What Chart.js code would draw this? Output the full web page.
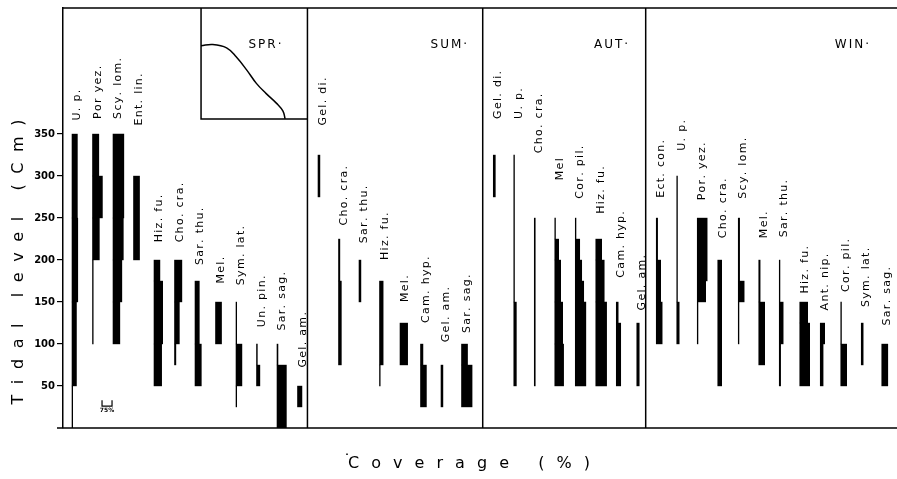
<!DOCTYPE html>
<html><head><meta charset="utf-8">
<script src="https://cdn.jsdelivr.net/npm/chart.js@4/dist/chart.umd.min.js"></script>
<style>html,body{margin:0;padding:0;background:#fff;overflow:hidden}</style>
</head><body>
<canvas id="c" width="897" height="479"></canvas>
<script>
// ---------------- DATA ----------------
const panelNames = ['SPR·', 'SUM·', 'AUT·', 'WIN·'];
const tidalTicks = [50, 100, 150, 200, 250, 300, 350];

// each species: list of [low cm, high cm, coverage %]
const sprSpecies = ['U. p.', 'Por yez.', 'Scy. lom.', 'Ent. lin.', 'Hiz. fu.', 'Cho. cra.', 'Sar. thu.', 'Mel.', 'Sym. lat.', 'Un. pin.', 'Sar. sag.', 'Gel. am.'];
const sprCover = [
  [[0, 50, 10], [50, 150, 38], [150, 250, 48], [250, 350, 45]],
  [[100, 200, 10], [200, 250, 56], [250, 300, 79], [300, 350, 52]],
  [[100, 150, 56], [150, 200, 71], [200, 250, 82], [250, 350, 86]],
  [[200, 300, 50]],
  [[50, 100, 62], [100, 175, 70], [175, 200, 49]],
  [[75, 100, 15], [100, 150, 41], [150, 200, 60]],
  [[50, 100, 52], [100, 175, 37]],
  [[100, 150, 50]],
  [[25, 50, 10], [50, 100, 49], [100, 150, 10]],
  [[50, 75, 30], [75, 100, 11]],
  [[0, 75, 75], [75, 100, 12]],
  [[25, 50, 38]]
];
const sprLabelAt = [366, 368, 368, 360, 221, 221, 194, 172, 170, 120, 116, 72];

const sumSpecies = ['Gel. di.', 'Cho. cra.', 'Sar. thu.', 'Hiz. fu.', 'Mel.', 'Cam. hyp.', 'Gel. am.', 'Sar. sag.'];
const sumCover = [
  [[275, 325, 19]],
  [[75, 175, 26], [175, 225, 15]],
  [[150, 200, 19]],
  [[50, 75, 10], [75, 175, 32]],
  [[75, 125, 62]],
  [[25, 75, 49], [75, 100, 23]],
  [[25, 75, 19]],
  [[25, 75, 84], [75, 100, 50]]
];
const sumLabelAt = [360, 241, 220, 200, 150, 125, 102, 113];

const autSpecies = ['Gel. di.', 'U. p.', 'Cho. cra.', 'Mel', 'Cor. pil.', 'Hiz. fu.', 'Cam. hyp.', 'Gel. am.'];
const autCover = [
  [[275, 325, 20]],
  [[50, 150, 24], [150, 325, 10]],
  [[50, 250, 12]],
  [[50, 100, 71], [100, 150, 64], [150, 200, 49], [200, 225, 34], [225, 250, 10]],
  [[50, 150, 84], [150, 175, 68], [175, 200, 53], [200, 225, 38], [225, 250, 10]],
  [[50, 150, 86], [150, 200, 68], [200, 225, 49]],
  [[50, 125, 38], [125, 150, 19]],
  [[50, 125, 23]]
];
const autLabelAt = [368, 368, 327, 295, 273, 255, 179, 140];

const winSpecies = ['Ect. con.', 'U. p.', 'Por. yez.', 'Cho. cra.', 'Scy. lom.', 'Mel.', 'Sar. thu.', 'Hiz. fu.', 'Ant. nip.', 'Cor. pil.', 'Sym. lat.', 'Sar. sag.'];
const winCover = [
  [[100, 150, 49], [150, 200, 38], [200, 250, 15]],
  [[100, 150, 23], [150, 300, 10]],
  [[100, 150, 10], [150, 175, 68], [175, 250, 79]],
  [[50, 200, 34]],
  [[100, 150, 10], [150, 175, 49], [175, 250, 15]],
  [[75, 150, 49], [150, 200, 15]],
  [[50, 100, 15], [100, 150, 34], [150, 200, 10]],
  [[50, 125, 79], [125, 150, 64]],
  [[50, 100, 26], [100, 125, 38]],
  [[50, 100, 49], [100, 150, 10]],
  [[75, 125, 19]],
  [[50, 100, 50]]
];
const winLabelAt = [274, 330, 271, 226, 273, 226, 227, 160, 140, 162, 144, 122];

// inset curve (SPR): time % vs relative level %
const insetTime = [0, 11, 24, 33, 43, 52, 61, 71, 77, 79];
const insetLevel = [66, 67, 64, 56, 44, 32, 23, 14, 7, 0];
const scaleBarCover = 75;

// ---------------- LAYOUT CONSTANTS ----------------
const PANEL_SHIFT = [0, 0, 0.55, 0.5];
const PX_PER_COL = 20.5;
const PCT_PER_PX = 7.5;
const INFLATE = 0.2;
const X_MIN = -0.424;
const X_MAX = X_MIN + 834 / PX_PER_COL;
const TITLE_COL = [9.43, 18.40, 26.31, 38.06];
const INSET = {x0: 6.31, x1: 11.5, y0: 368, y1: 500};
const FONT = 'DejaVu Sans';

const panels = [
  {species: sprSpecies, cover: sprCover, labelAt: sprLabelAt},
  {species: sumSpecies, cover: sumCover, labelAt: sumLabelAt},
  {species: autSpecies, cover: autCover, labelAt: autLabelAt},
  {species: winSpecies, cover: winCover, labelAt: winLabelAt}
];

const datasets = [];
const labelItems = [];
const dividers = [];
let col = 0;
panels.forEach((p, pi) => {
  if (pi > 0) dividers.push(col + PANEL_SHIFT[pi] - 0.5);
  p.species.forEach((name, si) => {
    const x0 = col + PANEL_SHIFT[pi];
    p.cover[si].forEach(([lo, hi, cov]) => {
      const wpx = cov / PCT_PER_PX;
      const thick = Math.max(0.6, wpx - 2 * INFLATE);
      datasets.push({
        type: 'bar',
        data: [{x: x0 + wpx / PX_PER_COL / 2, y: [lo, hi]}],
        barThickness: thick, maxBarThickness: thick, grouped: false,
        inflateAmount: INFLATE,
        backgroundColor: '#000', borderWidth: 0
      });
    });
    labelItems.push({text: name, x: x0, y: p.labelAt[si]});
    col++;
  });
});

datasets.push({
  type: 'line',
  data: insetTime.map((t, i) => ({
    x: INSET.x0 + t / 100 * (INSET.x1 - INSET.x0),
    y: INSET.y0 + insetLevel[i] / 100 * (INSET.y1 - INSET.y0)
  })),
  borderColor: '#000', borderWidth: 1.5, tension: 0.4, fill: false, pointRadius: 0
});

function spaced(ctx, str, x, y, sp) {
  let cx = x;
  for (const ch of str) {
    ctx.fillText(ch, cx, y);
    cx += ctx.measureText(ch).width + sp;
  }
}
function spacedWidth(ctx, str, sp) {
  let w = 0;
  for (const ch of str) w += ctx.measureText(ch).width + sp;
  return w - sp;
}

const decor = {
  id: 'decor',
  afterDatasetsDraw(chart) {
    const {ctx, chartArea: a} = chart;
    const xs = chart.scales.x, ys = chart.scales.y;
    const X = v => xs.getPixelForValue(v), Y = v => ys.getPixelForValue(v);
    ctx.save();
    ctx.strokeStyle = '#000';
    ctx.fillStyle = '#000';
    ctx.lineWidth = 1.5;
    ctx.beginPath();
    ctx.moveTo(a.left, a.top); ctx.lineTo(a.right, a.top);
    ctx.moveTo(a.left - 6, a.bottom); ctx.lineTo(a.right, a.bottom);
    dividers.forEach(d => { ctx.moveTo(X(d), a.top); ctx.lineTo(X(d), a.bottom); });
    ctx.moveTo(X(INSET.x0), a.top); ctx.lineTo(X(INSET.x0), Y(INSET.y0)); ctx.lineTo(X(INSET.x1), Y(INSET.y0));
    ctx.stroke();

    // scale bar
    const bx = X(1.48), bw = scaleBarCover / PCT_PER_PX;
    ctx.lineWidth = 1.2;
    ctx.beginPath();
    ctx.moveTo(bx, Y(33)); ctx.lineTo(bx, Y(26)); ctx.lineTo(bx + bw, Y(26)); ctx.lineTo(bx + bw, Y(33));
    ctx.stroke();
    ctx.font = 'bold 6px ' + FONT;
    ctx.textAlign = 'center'; ctx.textBaseline = 'middle';
    ctx.fillText(scaleBarCover + '%', bx + bw / 2, Y(21));

    // panel titles
    ctx.font = '12px ' + FONT;
    ctx.textAlign = 'left'; ctx.textBaseline = 'middle';
    panelNames.forEach((n, i) => {
      const w = spacedWidth(ctx, n, 2);
      spaced(ctx, n, X(TITLE_COL[i]) - w / 2, Y(456), 2);
    });

    // species labels
    ctx.font = '11px ' + FONT;
    labelItems.forEach(it => {
      ctx.save();
      ctx.translate(X(it.x) + 5.5, Y(it.y));
      ctx.rotate(-Math.PI / 2);
      spaced(ctx, it.text, 0, 0, 1.3);
      ctx.restore();
    });

    // axis titles
    ctx.font = '16px ' + FONT;
    const yt = 'Tidal level (Cm)';
    const n1 = [...yt].length;
    const sp1 = (285 - spacedWidth(ctx, yt, 0)) / (n1 - 1);
    ctx.save();
    ctx.translate(19, 262 + 285 / 2);
    ctx.rotate(-Math.PI / 2);
    spaced(ctx, yt, 0, 0, sp1);
    ctx.restore();

    const xt = 'Coverage (%)';
    const n2 = [...xt].length;
    const sp2 = (242 - spacedWidth(ctx, xt, 0)) / (n2 - 1);
    ctx.fillText('˙', 343, 462);
    spaced(ctx, xt, 348, 464, sp2);
    ctx.restore();
  }
};

new Chart(document.getElementById('c'), {
  type: 'bar',
  data: {datasets},
  options: {
    responsive: false, animation: false, devicePixelRatio: 1,
    layout: {padding: {top: 7, right: 0, bottom: 51, left: 0}},
    plugins: {legend: {display: false}, tooltip: {enabled: false}},
    scales: {
      x: {type: 'linear', min: X_MIN, max: X_MAX, display: false, offset: false},
      y: {
        type: 'linear', min: 0, max: 500, position: 'left',
        afterFit(s) { s.width = 63; },
        afterBuildTicks(s) { s.ticks = tidalTicks.map(v => ({value: v})); },
        ticks: {color: '#000', font: {family: FONT, size: 10, weight: 'bold'}, padding: 2},
        grid: {drawOnChartArea: false, drawTicks: true, tickLength: 6, color: '#000', lineWidth: 1.2},
        border: {display: true, color: '#000', width: 1.5}
      }
    }
  },
  plugins: [decor]
});
</script>
</body></html>
